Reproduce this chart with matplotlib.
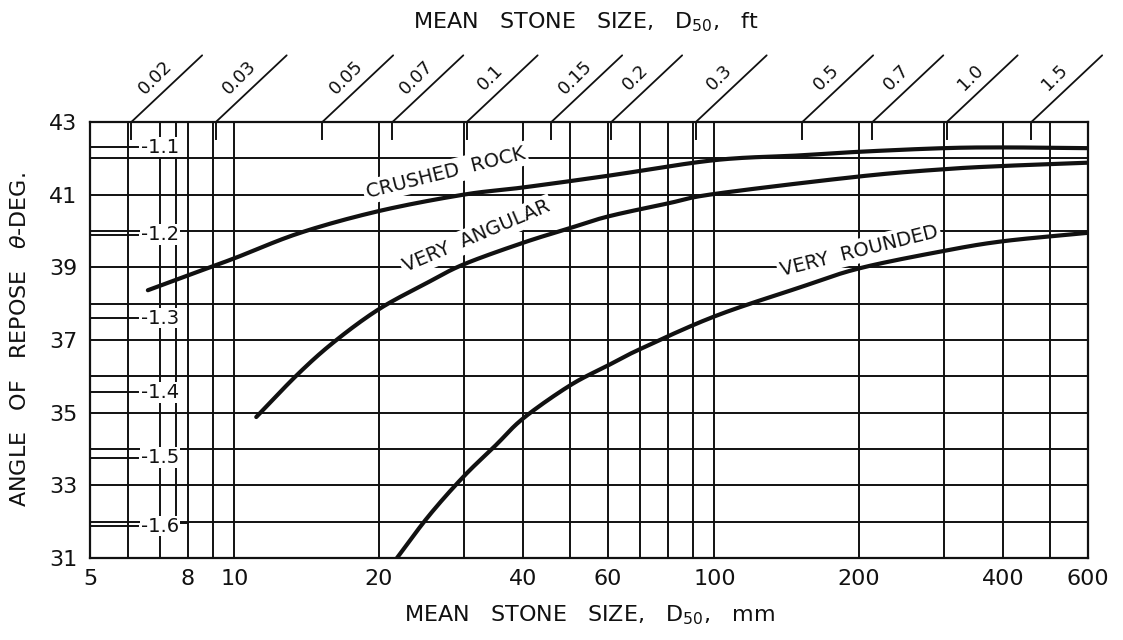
import numpy as np
import matplotlib.pyplot as plt

# bottom axis: mean stone size in mm (log scale)
x_ticks_mm = [5, 8, 10, 20, 40, 60, 100, 200, 400, 600]
grid_mm = [6, 7, 8, 9, 10, 20, 30, 40, 50, 60, 70, 80, 90, 100, 200, 300, 400, 500]
y_ticks = [31, 33, 35, 37, 39, 41, 43]

# top axis: mean stone size in ft
top_ft = [0.02, 0.03, 0.05, 0.07, 0.1, 0.15, 0.2, 0.3, 0.5, 0.7, 1.0, 1.5]
top_labels = ["0.02", "0.03", "0.05", "0.07", "0.1", "0.15", "0.2", "0.3", "0.5", "0.7", "1.0", "1.5"]

# inner scale on the left
inner_deg = [42.31, 39.9, 37.6, 35.56, 33.76, 31.88]
inner_labels = ["-1.1", "-1.2", "-1.3", "-1.4", "-1.5", "-1.6"]

# curves
crushed_mm = [6.6, 8, 10, 13.7, 20, 30, 40, 60, 100, 150, 200, 300, 400, 600]
crushed_deg = [38.37, 38.78, 39.25, 39.95, 40.55, 41.0, 41.2, 41.52, 41.95, 42.08, 42.18, 42.28, 42.3, 42.28]

angular_mm = [11.1, 13.6, 16.2, 20, 25, 30, 40, 50, 60, 80, 100, 200, 300, 400, 600]
angular_deg = [34.88, 36.08, 36.97, 37.85, 38.55, 39.08, 39.68, 40.08, 40.4, 40.76, 41.02, 41.5, 41.7, 41.79, 41.88]

rounded_mm = [21.8, 25.4, 30, 35, 40, 50, 60, 70, 100, 150, 200, 300, 400, 600]
rounded_deg = [31.0, 32.16, 33.24, 34.1, 34.85, 35.75, 36.3, 36.75, 37.65, 38.44, 38.97, 39.45, 39.72, 39.95]

INK = "#111111"


def smooth(xs, ys, n=20):
    # Catmull-Rom through the read points, in log-x space
    lx = np.log10(xs)
    y = np.asarray(ys, dtype=float)
    px = np.concatenate([[2 * lx[0] - lx[1]], lx, [2 * lx[-1] - lx[-2]]])
    py = np.concatenate([[2 * y[0] - y[1]], y, [2 * y[-1] - y[-2]]])
    ox, oy = [], []
    t = np.linspace(0, 1, n, endpoint=False)
    for i in range(1, len(px) - 2):
        for arr, out in ((px, ox), (py, oy)):
            p0, p1, p2, p3 = arr[i - 1], arr[i], arr[i + 1], arr[i + 2]
            out.extend(0.5 * (2 * p1 + (-p0 + p2) * t + (2 * p0 - 5 * p1 + 4 * p2 - p3) * t ** 2
                              + (-p0 + 3 * p1 - 3 * p2 + p3) * t ** 3))
    ox.append(lx[-1])
    oy.append(y[-1])
    return 10 ** np.array(ox), np.array(oy)


fig = plt.figure(figsize=(11.23, 6.4), dpi=100)
ax = fig.add_axes([90 / 1123, 82 / 640, 998 / 1123, 436 / 640])
ax.set_xscale("log")
ax.set_xlim(5, 600)
ax.set_ylim(31, 43)

# grid
for d in range(32, 43):
    ax.axhline(d, color=INK, lw=1.4, zorder=1)
for m in grid_mm:
    ax.axvline(m, color=INK, lw=1.4, zorder=1)

# left inner scale
for d, lab in zip(inner_deg, inner_labels):
    ax.plot([5, 6.3], [d, d], color=INK, lw=1.4, zorder=1)
    ax.text(7.0, d, lab, ha="center", va="center", fontsize=14, color=INK,
            bbox=dict(facecolor="white", edgecolor="none", pad=0.5), zorder=4)
ax.plot([7.55, 7.55, 8.0], [43, 31.95, 31.95], color=INK, lw=1.4, zorder=1)

# curves
for xs, ys in ((crushed_mm, crushed_deg), (angular_mm, angular_deg), (rounded_mm, rounded_deg)):
    sx, sy = smooth(xs, ys)
    ax.plot(sx, sy, color=INK, lw=3.0, zorder=3, solid_capstyle="round")

lab_kw = dict(ha="center", va="center", fontsize=14, color=INK, zorder=4,
              bbox=dict(facecolor="white", edgecolor="none", pad=2))
ax.text(27.5, 41.6, "CRUSHED  ROCK", rotation=14, **lab_kw)
ax.text(32.0, 39.85, "VERY  ANGULAR", rotation=23, **lab_kw)
ax.text(200, 39.45, "VERY  ROUNDED", rotation=14, **lab_kw)

# axes / ticks
for s in ax.spines.values():
    s.set_linewidth(1.6)
    s.set_color(INK)
    s.set_zorder(5)
ax.set_xticks(x_ticks_mm)
ax.set_xticklabels([str(v) for v in x_ticks_mm])
ax.xaxis.set_minor_locator(plt.NullLocator())
ax.set_yticks(y_ticks)
ax.tick_params(axis="both", length=0, labelsize=16, colors=INK)
ax.tick_params(axis="x", pad=8)
ax.tick_params(axis="y", pad=9)

ax.set_xlabel("MEAN   STONE   SIZE,   D$_{50}$,   mm", fontsize=16, color=INK, labelpad=10)
ax.set_ylabel("ANGLE   OF   REPOSE   $\\theta$-DEG.", fontsize=16, color=INK, labelpad=14)

# top slanted ft scale
trans = ax.get_xaxis_transform()
for ft, lab in zip(top_ft, top_labels):
    mm = ft * 304.8
    ax.plot([mm, mm], [1.0, 0.962], transform=trans, color=INK, lw=1.4, clip_on=False, zorder=2)
    ax.annotate("", xy=(mm, 1.0), xycoords=trans, xytext=(51, 48),
                textcoords="offset points",
                arrowprops=dict(arrowstyle="-", color=INK, lw=1.3, shrinkA=0, shrinkB=0))
    ax.annotate(lab, xy=(mm, 1.0), xycoords=trans, xytext=(17, 32),
                textcoords="offset points", rotation=45, ha="center", va="center",
                fontsize=13, color=INK)

fig.text(0.522, 0.965, "MEAN   STONE   SIZE,   D$_{50}$,   ft", ha="center", va="center",
         fontsize=16, color=INK)

fig.savefig("out.png", dpi=100, facecolor="white")
